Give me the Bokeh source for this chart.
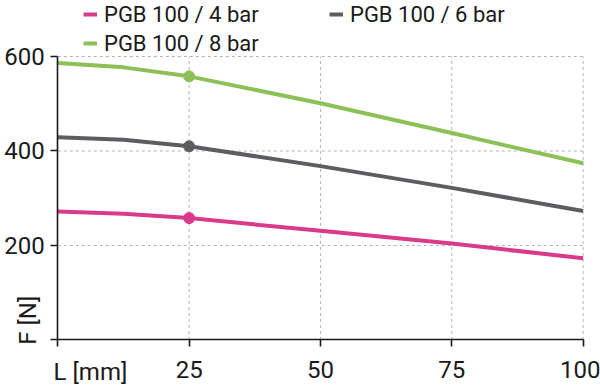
import math
from bokeh.plotting import figure
from bokeh.models import Range1d, FixedTicker, Legend, LegendItem, Label
from bokeh.embed import file_html
from bokeh.resources import INLINE

# Data
L = [0, 12.5, 25, 50, 75, 100]
f4 = [272, 267, 258, 231, 204, 173]
f6 = [429, 424, 410, 368, 322, 273]
f8 = [586, 577, 558, 501, 438, 374]
marker_L = [25]
marker_f4 = [258]
marker_f6 = [410]
marker_f8 = [558]
names = ["PGB 100 / 4 bar", "PGB 100 / 6 bar", "PGB 100 / 8 bar"]
x_ticks = [0, 25, 50, 75, 100]
y_ticks = [0, 200, 400, 600]
x_label = "L [mm]"
y_label = "F [N]"

PINK = "#d93a8b"
GRAY = "#5d5c60"
GREEN = "#8cc157"
TXT = "#1a1a1a"
FONT = "Roboto"

# frame covers the whole canvas; axes are pinned at data 0
p = figure(width=600, height=385, output_backend="svg", toolbar_location=None,
           x_range=Range1d(-10.91, 103.31), y_range=Range1d(-96.3, 718.5),
           min_border=0)
p.outline_line_color = None
p.background_fill_color = "white"
p.border_fill_color = "white"
p.grid.visible = False

for ax in (p.xaxis[0], p.yaxis[0]):
    ax.fixed_location = 0
    ax.axis_line_color = TXT
    ax.axis_line_width = 1.6
    ax.major_tick_line_color = TXT
    ax.major_tick_line_width = 1.6
    ax.major_tick_out = 7
    ax.major_tick_in = 0
    ax.minor_tick_line_color = None
    ax.major_label_text_font = FONT
    ax.major_label_text_font_size = "24px"
    ax.major_label_text_color = TXT

p.xaxis.bounds = (x_ticks[0], x_ticks[-1])
p.yaxis.bounds = (y_ticks[0], y_ticks[-1])
p.xaxis.ticker = FixedTicker(ticks=x_ticks)
p.yaxis.ticker = FixedTicker(ticks=y_ticks)
p.xaxis.major_label_overrides = {0: ""}
p.yaxis.major_label_overrides = {0: ""}
p.xaxis.major_label_standoff = 14
p.yaxis.major_label_standoff = 6

# dashed grid limited to the plot area
gx = x_ticks[1:]
gy = y_ticks[1:]
p.multi_line(xs=[[t, t] for t in gx], ys=[[y_ticks[0], y_ticks[-1]] for _ in gx],
             line_color="#b4b4b4", line_dash="3 3", line_width=1)
p.multi_line(xs=[[x_ticks[0], x_ticks[-1]] for _ in gy], ys=[[t, t] for t in gy],
             line_color="#b4b4b4", line_dash="3 3", line_width=1)

r4 = p.line(L, f4, line_color=PINK, line_width=4)
r6 = p.line(L, f6, line_color=GRAY, line_width=4)
r8 = p.line(L, f8, line_color=GREEN, line_width=4)
p.scatter(marker_L, marker_f4, size=11, color=PINK)
p.scatter(marker_L, marker_f6, size=11, color=GRAY)
p.scatter(marker_L, marker_f8, size=11, color=GREEN)

def make_legend(items, loc):
    lg = Legend(items=items, location=loc, orientation="vertical",
                glyph_width=14, glyph_height=26, label_height=26, label_standoff=7,
                spacing=3, padding=0, margin=0,
                border_line_color=None, background_fill_alpha=0,
                label_text_font=FONT, label_text_font_size="22px", label_text_color=TXT)
    p.add_layout(lg, "center")
    return lg

make_legend([LegendItem(label=names[0], renderers=[r4]),
             LegendItem(label=names[2], renderers=[r8])], (83, 329))
make_legend([LegendItem(label=names[1], renderers=[r6])], (329, 358))

p.add_layout(Label(x=-0.8, y=-67, text=x_label, text_align="left", text_baseline="middle",
                   text_font=FONT, text_font_size="24px", text_color=TXT))
p.add_layout(Label(x=-5.6, y=-10, text=y_label, angle=math.pi / 2, text_align="left",
                   text_baseline="middle",
                   text_font=FONT, text_font_size="24px", text_color=TXT))

open("out.html", "w").write(file_html(p, INLINE))
